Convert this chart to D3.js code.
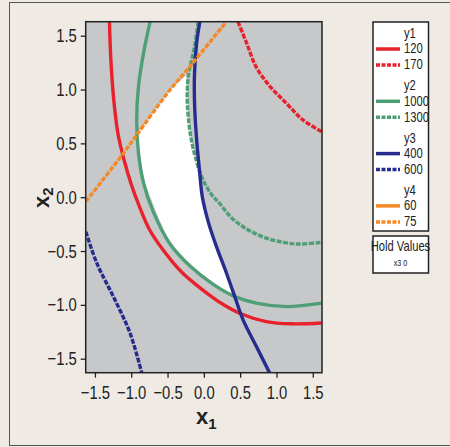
<!DOCTYPE html>
<html>
<head>
<meta charset="utf-8">
<script src="https://cdn.jsdelivr.net/npm/d3@7"></script>
<style>
  body { margin: 0; background: #efebe4; }
  svg { display: block; }
  .tick text { font-family: "Liberation Sans", Arial, sans-serif; font-size: 19px; fill: #222; }
  .leg text { font-family: "Liberation Sans", Arial, sans-serif; font-size: 14px; fill: #222; }
</style>
</head>
<body>
<div id="main"></div>
<script>
var main = d3.select('#main');

var width = 450;
var height = 447;

// contour lines, [x1, x2]
var y1Low = [[-1.30,1.63],[-1.28,1.27],[-1.24,0.9],[-1.18,0.58],[-1.1,0.35],[-1.0,0.12],[-0.88,-0.1],[-0.75,-0.3],[-0.55,-0.5],[-0.3,-0.7],[0.0,-0.87],[0.25,-0.99],[0.5,-1.08],[0.86,-1.155],[1.2,-1.176],[1.62,-1.168]];
var y1High = [[0.47,1.63],[0.59,1.43],[0.72,1.21],[0.91,1.03],[1.14,0.87],[1.36,0.72],[1.62,0.61]];
var y2Low = [[-0.74,1.63],[-0.83,1.34],[-0.9,1.03],[-0.925,0.72],[-0.9,0.41],[-0.83,0.13],[-0.7,-0.13],[-0.47,-0.43],[-0.19,-0.64],[0.13,-0.81],[0.4,-0.915],[0.72,-0.984],[1.14,-1.016],[1.62,-0.984]];
var y2High = [[-0.08,1.63],[-0.12,1.43],[-0.17,1.27],[-0.215,1.12],[-0.23,0.93],[-0.215,0.75],[-0.18,0.56],[-0.12,0.38],[-0.03,0.19],[0.1,0.03],[0.22,-0.06],[0.38,-0.19],[0.6,-0.3],[0.86,-0.38],[1.1,-0.42],[1.3,-0.435],[1.62,-0.42]];
var y3Low = [[-0.055,1.63],[-0.1,1.43],[-0.13,1.12],[-0.125,0.81],[-0.095,0.5],[-0.06,0.25],[-0.02,0.0],[0.07,-0.25],[0.174,-0.459],[0.312,-0.706],[0.426,-0.923],[0.54,-1.14],[0.724,-1.387],[0.907,-1.634]];
var y3High = [[-1.625,-0.32],[-1.474,-0.613],[-1.246,-0.923],[-1.016,-1.263],[-0.856,-1.63]];
var y4High = [[-1.625,-0.04],[-1.108,0.408],[-0.925,0.578],[-0.467,0.996],[-0.192,1.213],[0.31,1.63]];

// feasible (white) region
var feasible = [[-0.925,0.578],[-0.467,0.996],[-0.238,1.136],[-0.23,0.93],[-0.215,0.75],[-0.18,0.56],[-0.12,0.38],[-0.06,0.26],[-0.02,0.0],[0.07,-0.25],[0.174,-0.459],[0.312,-0.706],[0.39,-0.9],[0.13,-0.81],[-0.19,-0.64],[-0.47,-0.43],[-0.65,-0.15],[-0.81,0.13],[-0.9,0.41]];

var ticks = [-1.5, -1.0, -0.5, 0.0, 0.5, 1.0, 1.5];

var legendGroups = ['y1', 'y2', 'y3', 'y4'];
var legendLevels = [['120', '170'], ['1000', '1300'], ['400', '600'], ['60', '75']];
var colors = ['#e8212b', '#4f9f76', '#262d8e', '#f58a25'];

var svg = main
  .append('svg')
  .attr('width', width)
  .attr('height', height);

svg.append('rect')
  .attr('x', 9.5).attr('y', 2.5)
  .attr('width', 441).attr('height', 443)
  .attr('fill', '#efebe4')
  .attr('stroke', '#555')
  .attr('stroke-width', 1);

var pLeft = 85.7, pRight = 322, pTop = 21.7, pBottom = 372.7;

var x = d3.scaleLinear()
  .domain([-1.627, 1.627])
  .range([pLeft, pRight]);

var y = d3.scaleLinear()
  .domain([-1.63, 1.63])
  .range([pBottom, pTop]);

svg.append('clipPath')
  .attr('id', 'plotclip')
  .append('rect')
  .attr('x', pLeft).attr('y', pTop)
  .attr('width', pRight - pLeft).attr('height', pBottom - pTop);

svg.append('rect')
  .attr('x', pLeft).attr('y', pTop)
  .attr('width', pRight - pLeft).attr('height', pBottom - pTop)
  .attr('fill', '#c7c8ca');

var plot = svg.append('g').attr('clip-path', 'url(#plotclip)');

var line = d3.line()
  .x(function(d) { return x(d[0]); })
  .y(function(d) { return y(d[1]); })
  .curve(d3.curveCatmullRom);

plot.append('path')
  .datum(feasible)
  .attr('d', d3.line()
    .x(function(d) { return x(d[0]); })
    .y(function(d) { return y(d[1]); })
    .curve(d3.curveLinearClosed))
  .attr('fill', '#fff');

var curves = [
  { data: y1Low, color: colors[0], dash: null },
  { data: y1High, color: colors[0], dash: '5,1.5' },
  { data: y2Low, color: colors[1], dash: null },
  { data: y2High, color: colors[1], dash: '5,1.5' },
  { data: y3Low, color: colors[2], dash: null },
  { data: y3High, color: colors[2], dash: '5,1.5' },
  { data: y4High, color: colors[3], dash: '5,1.5' }
];

plot.selectAll('path.contour')
  .data(curves)
  .enter().append('path')
  .attr('class', 'contour')
  .attr('d', function(d) { return line(d.data); })
  .attr('fill', 'none')
  .attr('stroke', function(d) { return d.color; })
  .attr('stroke-width', 3.4)
  .attr('stroke-dasharray', function(d) { return d.dash; });

svg.append('rect')
  .attr('x', pLeft).attr('y', pTop)
  .attr('width', pRight - pLeft).attr('height', pBottom - pTop)
  .attr('fill', 'none')
  .attr('stroke', '#222')
  .attr('stroke-width', 1.5);

var fmt = function(v) { return d3.format('.1f')(v).replace('-', '\u2212'); };

svg.append('g')
  .attr('transform', 'translate(0,' + pBottom + ')')
  .call(d3.axisBottom(x).tickValues(ticks).tickFormat(fmt).tickSize(5).tickPadding(8))
  .call(function(g) { g.select('.domain').remove(); })
  .call(function(g) { g.selectAll('.tick line').attr('stroke', '#222').attr('stroke-width', 1.3); })
  .call(function(g) { g.selectAll('.tick text').attr('transform', 'scale(0.78,1)'); });

svg.append('g')
  .attr('transform', 'translate(' + pLeft + ',0)')
  .call(d3.axisLeft(y).tickValues(ticks).tickFormat(fmt).tickSize(5).tickPadding(6.5))
  .call(function(g) { g.select('.domain').remove(); })
  .call(function(g) { g.selectAll('.tick line').attr('stroke', '#222').attr('stroke-width', 1.3); })
  .call(function(g) { g.selectAll('.tick text').attr('transform', 'scale(0.78,1)'); });

var xl = svg.append('text')
  .attr('x', 196).attr('y', 424)
  .attr('font-family', 'Liberation Sans, Arial, sans-serif')
  .attr('font-weight', 'bold')
  .attr('font-size', 22)
  .attr('fill', '#222');
xl.append('tspan').text('x');
xl.append('tspan').attr('font-size', 15).attr('dy', 5).text('1');

var yl = svg.append('text')
  .attr('transform', 'translate(48.5,208) rotate(-90)')
  .attr('font-family', 'Liberation Sans, Arial, sans-serif')
  .attr('font-weight', 'bold')
  .attr('font-size', 22)
  .attr('fill', '#222');
yl.append('tspan').text('x');
yl.append('tspan').attr('font-size', 15).attr('dy', 4).text('2');

// legend
var leg = svg.append('g').attr('class', 'leg');

leg.append('rect')
  .attr('x', 373).attr('y', 22)
  .attr('width', 55.5).attr('height', 209)
  .attr('fill', '#fff')
  .attr('stroke', '#222')
  .attr('stroke-width', 1.5);

function narrow(sel, cx) {
  // horizontally compress text about its own anchor x
  sel.attr('transform', 'translate(' + cx + ',0) scale(0.8,1) translate(' + (-cx) + ',0)');
}

legendGroups.forEach(function(name, i) {
  var gy = 38 + i * 52.3;
  leg.append('text')
    .attr('x', 404).attr('y', gy)
    .call(narrow, 404)
    .text(name);
  legendLevels[i].forEach(function(lv, j) {
    var ly = gy + 15.5 + j * 16;
    leg.append('line')
      .attr('x1', 376).attr('x2', 400)
      .attr('y1', ly - 4.5).attr('y2', ly - 4.5)
      .attr('stroke', colors[i])
      .attr('stroke-width', 3.5)
      .attr('stroke-dasharray', j === 1 ? '4,1.5' : null);
    leg.append('text')
      .attr('x', 404).attr('y', ly)
      .call(narrow, 404)
      .text(lv);
  });
});

leg.append('rect')
  .attr('x', 373).attr('y', 236)
  .attr('width', 55.5).attr('height', 37)
  .attr('fill', '#fff')
  .attr('stroke', '#222')
  .attr('stroke-width', 1.5);

leg.append('text')
  .attr('x', 400.5).attr('y', 251)
  .attr('text-anchor', 'middle')
  .call(narrow, 400.5)
  .text('Hold Values');

leg.append('text')
  .attr('x', 400.5).attr('y', 266)
  .attr('text-anchor', 'middle')
  .call(narrow, 400.5)
  .style('font-size', '9px')
  .text('x3 0');
</script>
</body>
</html>
